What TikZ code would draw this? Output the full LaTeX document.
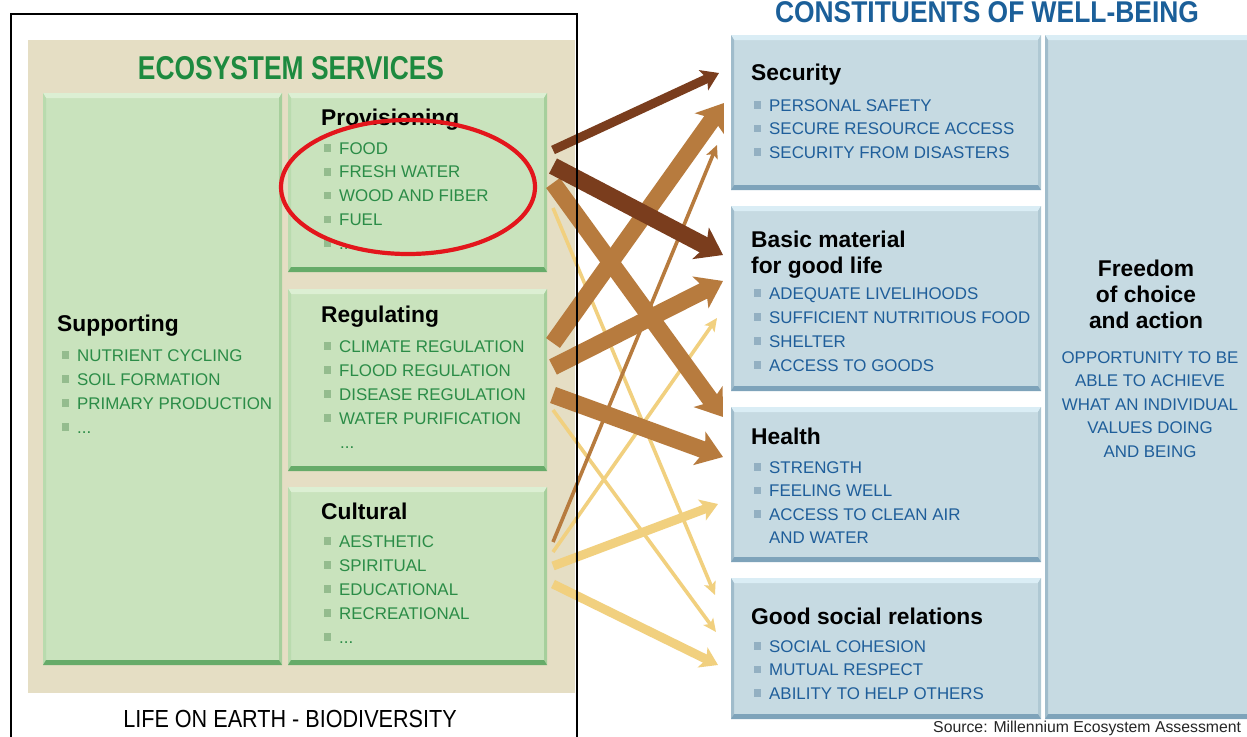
\documentclass[tikz,border=0pt]{standalone}
\usepackage{fontspec}
\setmainfont{Liberation Sans}
\usepackage{graphicx}
\usetikzlibrary{arrows.meta,calc}

% palette
\definecolor{beige}{HTML}{E5DEC4}
\definecolor{leaffill}{HTML}{C9E3BD}
\definecolor{leaflight}{HTML}{DCEFD3}
\definecolor{leafleft}{HTML}{B9DBAE}
\definecolor{leafright}{HTML}{A6CF9C}
\definecolor{leafdark}{HTML}{66AB69}
\definecolor{skyfill}{HTML}{C6DAE2}
\definecolor{skylight}{HTML}{DAEDF5}
\definecolor{skyleft}{HTML}{A0BCCB}
\definecolor{skyright}{HTML}{AFC8D3}
\definecolor{skydark}{HTML}{7EA3BA}
\definecolor{ecogreen}{HTML}{1D8A3F}
\definecolor{itemgreen}{HTML}{2B8C47}
\definecolor{gbullet}{HTML}{94BC8E}
\definecolor{wbblue}{HTML}{1B5F99}
\definecolor{itemblue}{HTML}{1F5E9A}
\definecolor{bbullet}{HTML}{93B0C2}
\definecolor{darkflow}{HTML}{7A3D1D}
\definecolor{midflow}{HTML}{B77B3E}
\definecolor{lightflow}{HTML}{F1D07F}
\definecolor{ringred}{HTML}{E3161C}

\newcommand\titlefont{\fontsize{33}{36}\selectfont\bfseries}
\newcommand\headfont{\fontsize{22.8}{26}\selectfont\bfseries}
\newcommand\itemfont{\fontsize{16.9}{20}\selectfont}
\newcommand\moreitems{...}

% bevelled box: name, palette, x1, y1, x2, y2
\newcommand\bevelbox[6]{%
  \node[anchor=north west, inner sep=0pt, outer sep=0pt, fill=#2fill,
        minimum width={(#5-#3)*1pt}, minimum height={(#6-#4)*1pt}] (#1) at (#3,#4) {};
  \fill[#2light] (#1.north west) -- (#1.north east) -- ++(-3,5)
        -- ($(#1.north west)+(3,5)$) -- cycle;
  \fill[#2left] (#1.north west) -- ++(3,5) -- ($(#1.south west)+(3,-5)$)
        -- (#1.south west) -- cycle;
  \fill[#2right] (#1.north east) -- ++(-3,5) -- ($(#1.south east)+(-3,-5)$)
        -- (#1.south east) -- cycle;
  \fill[#2dark] (#1.south west) -- ++(3,-5) -- ($(#1.south east)+(-3,-5)$)
        -- (#1.south east) -- cycle;
}

% bulleted list: name, style prefix, x, first baseline, step, items
\newcommand\listitems[6]{%
  \foreach \t [count=\i] in {#6} {
    \node[#2item] (#1-\i) at ({#3},{#4+#5*(\i-1)}) {\t};
    \node[#2dot] (#1-dot-\i) at ($(#1-\i.base west)+(-11.5,-6)$) {};
  }%
}

\begin{document}
\begin{tikzpicture}[x=1pt,y=-1pt,
  head/.style={anchor=base west, inner sep=0pt, font=\headfont, text=black},
  chead/.style={anchor=base, inner sep=0pt, font=\headfont, text=black},
  gitem/.style={anchor=base west, inner sep=0pt, font=\itemfont, text=itemgreen},
  bitem/.style={anchor=base west, inner sep=0pt, font=\itemfont, text=itemblue},
  citem/.style={anchor=base, inner sep=0pt, font=\itemfont, text=itemblue},
  gdot/.style={rectangle, fill=gbullet, minimum size=7.5pt, inner sep=0pt},
  bdot/.style={rectangle, fill=bbullet, minimum size=7.5pt, inner sep=0pt},
  flow/.style={line cap=butt},
  thickflow/.style={flow, line width=17pt, -{Stealth[length=25pt,width=35pt,inset=6pt]}},
  midflow/.style={flow, line width=9pt, -{Stealth[length=17pt,width=22pt,inset=4pt]}},
  thinflow/.style={flow, line width=3.6pt, -{Stealth[length=13pt,width=12pt,inset=3pt]}},
]
\useasboundingbox (0,0) rectangle (1247,736);
\clip (0,0) rectangle (1247,736);
\fill[white] (0,0) rectangle (1247,736);

% ---------------- ecosystem services ----------------
\fill[beige] (28,40) rectangle (575,693);
\node[anchor=base, inner sep=0pt, text=ecogreen, font=\titlefont] (eco-title)
  at (291,79) {\scalebox{0.8}[1]{ECOSYSTEM SERVICES}};

\bevelbox{supporting}{leaf}{43}{93}{282}{665}
\bevelbox{provisioning}{leaf}{288}{93}{547}{272}
\bevelbox{regulating}{leaf}{288}{289}{547}{471}
\bevelbox{cultural}{leaf}{288}{487}{547}{665}

\node[head] (sup-head) at (57,331) {Supporting};
\listitems{sup}{g}{77}{361}{24}{NUTRIENT CYCLING, SOIL FORMATION, PRIMARY PRODUCTION, \moreitems}

\node[head] (prov-head) at (321,125) {Provisioning};
\listitems{prov}{g}{339}{154}{23.75}{FOOD, FRESH WATER, WOOD AND FIBER, FUEL, \moreitems}

\node[head] (reg-head) at (321,322) {Regulating};
\listitems{reg}{g}{339}{352}{24}{CLIMATE REGULATION, FLOOD REGULATION, DISEASE REGULATION, WATER PURIFICATION}
\node[gitem] (reg-more) at (340,448) {\moreitems};

\node[head] (cult-head) at (321,519) {Cultural};
\listitems{cult}{g}{339}{547}{24}{AESTHETIC, SPIRITUAL, EDUCATIONAL, RECREATIONAL, \moreitems}

\node[anchor=base, inner sep=0pt, text=black] (life) at (290,727)
  {\fontsize{24.7}{28}\selectfont\scalebox{0.875}[1]{LIFE ON EARTH - BIODIVERSITY}};

% ---------------- constituents of well-being ----------------
\node[anchor=base, inner sep=0pt, text=wbblue] (wb-title)
  at (987,23) {\fontsize{30}{33}\selectfont\bfseries\scalebox{0.88}[1]{CONSTITUENTS OF WELL-BEING}};

\bevelbox{security}{sky}{731}{35}{1041}{190}
\bevelbox{basic}{sky}{731}{206}{1041}{391}
\bevelbox{health}{sky}{731}{407}{1041}{562}
\bevelbox{social}{sky}{731}{578}{1041}{719}
\bevelbox{freedom}{sky}{1045}{35}{1262}{719}

\node[head] (sec-head) at (751,80) {Security};
\listitems{sec}{b}{769}{111}{23.5}{PERSONAL SAFETY, SECURE RESOURCE ACCESS, SECURITY FROM DISASTERS}

\node[head] (bas-head-1) at (751,247) {Basic material};
\node[head] (bas-head-2) at (751,273) {for good life};
\listitems{bas}{b}{769}{299}{24}{ADEQUATE LIVELIHOODS, SUFFICIENT NUTRITIOUS FOOD, SHELTER, ACCESS TO GOODS}

\node[head] (hea-head) at (751,444) {Health};
\listitems{hea}{b}{769}{473}{23.5}{STRENGTH, FEELING WELL, ACCESS TO CLEAN AIR}
\node[bitem] (hea-4) at (769,543) {AND WATER};

\node[head] (soc-head) at (751,624) {Good social relations};
\listitems{soc}{b}{769}{652}{23.5}{SOCIAL COHESION, MUTUAL RESPECT, ABILITY TO HELP OTHERS}

\foreach \t [count=\i] in {Freedom, of choice, and action}
  \node[chead] (free-head-\i) at (1146,{276+26*(\i-1)}) {\t};
\foreach \t [count=\i] in {OPPORTUNITY TO BE, ABLE TO ACHIEVE, WHAT AN INDIVIDUAL, VALUES DOING, AND BEING}
  \node[citem] (free-\i) at (1150,{363+23.5*(\i-1)}) {\t};

\node[anchor=base west, inner sep=0pt, text=black!85] (source)
  at (933,732) {\fontsize{15.8}{18}\selectfont Source: Millennium Ecosystem Assessment};

% ---------------- links between services and well-being ----------------
\coordinate (p-sec) at (553,150);   \coordinate (to-sec-p) at (719,73);
\coordinate (p-bas) at (553,166);   \coordinate (to-bas-p) at (723,255);
\coordinate (p-hea) at (553,183);   \coordinate (to-hea-p) at (723,417);
\coordinate (p-soc) at (553,208);   \coordinate (to-soc-p) at (715,595);
\coordinate (r-sec) at (553,343);   \coordinate (to-sec-r) at (724,103);
\coordinate (r-bas) at (553,367);   \coordinate (to-bas-r) at (723,281);
\coordinate (r-hea) at (553,395);   \coordinate (to-hea-r) at (723,457);
\coordinate (r-soc) at (553,410);   \coordinate (to-soc-r) at (716,632);
\coordinate (c-sec) at (553,542);   \coordinate (to-sec-c) at (717,145);
\coordinate (c-bas) at (553,552);   \coordinate (to-bas-c) at (717,318);
\coordinate (c-hea) at (553,566);   \coordinate (to-hea-c) at (718,504);
\coordinate (c-soc) at (553,584);   \coordinate (to-soc-c) at (718,665);

\draw[thinflow, draw=lightflow, fill=lightflow] (p-soc) -- (to-soc-p);
\draw[thinflow, draw=lightflow, fill=lightflow] (r-soc) -- (to-soc-r);
\draw[thinflow, draw=lightflow, fill=lightflow] (c-bas) -- (to-bas-c);
\draw[midflow, draw=lightflow, fill=lightflow] (c-hea) -- (to-hea-c);
\draw[midflow, draw=lightflow, fill=lightflow] (c-soc) -- (to-soc-c);
\draw[thinflow, draw=midflow, fill=midflow] (c-sec) -- (to-sec-c);
\draw[thickflow, draw=midflow, fill=midflow] (r-hea) -- (to-hea-r);
\draw[thickflow, draw=midflow, fill=midflow] (r-bas) -- (to-bas-r);
\draw[thickflow, draw=midflow, fill=midflow] (p-hea) -- (to-hea-p);
\draw[thickflow, draw=midflow, fill=midflow] (r-sec) -- (to-sec-r);
\draw[thickflow, draw=darkflow, fill=darkflow] (p-bas) -- (to-bas-p);
\draw[midflow, draw=darkflow, fill=darkflow] (p-sec) -- (to-sec-p);

% frame round the ecosystem side
\draw[line width=2.2pt] (11,14) rectangle (577,760);

% highlight ring over the provisioning items
\draw[ringred, line width=4.2pt] (408,187) ellipse [x radius=127pt, y radius=67pt];
\end{tikzpicture}
\end{document}
